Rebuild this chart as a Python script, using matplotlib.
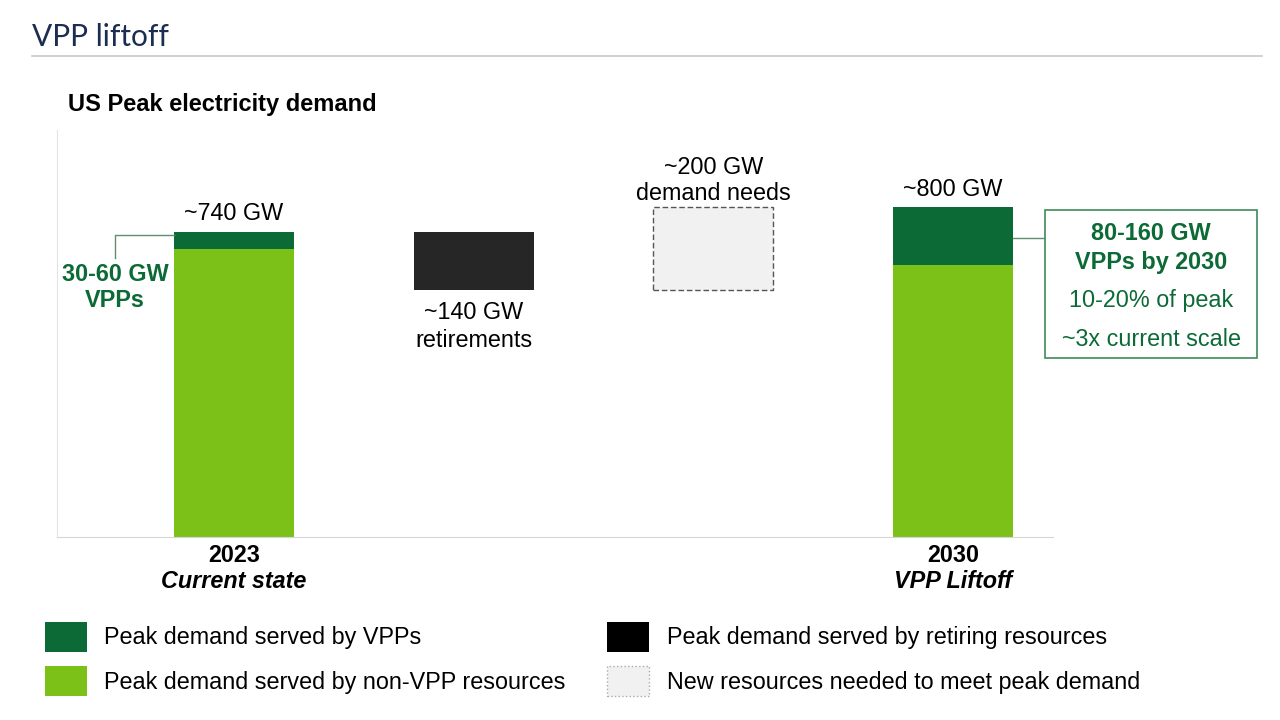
import matplotlib.pyplot as plt
from matplotlib.patches import Patch, Rectangle
from matplotlib.lines import Line2D

# data (GW)
years = ["2023", "2030"]
year_notes = ["Current state", "VPP Liftoff"]
totals = [740, 800]
vpp_gw = [40, 140]
retire_gw = 140
need_gw = 200
top_labels = ["~740 GW", "~800 GW"]

DARK = "#0b6a35"
LIGHT = "#7cc118"
BLACK = "#262626"
GREY_FILL = "#f1f1f1"
FS = 16.8

plt.rcParams['font.family'] = ['Liberation Sans', 'DejaVu Sans']

fig = plt.figure(figsize=(12.8, 7.2), dpi=100)

def fx(px):
    return px / 1280

def fy(py):
    return 1 - py / 720

# page header
fig.text(fx(32), fy(37), "VPP liftoff", fontsize=21.5, color="#1c2d52",
         family=['Lato', 'DejaVu Sans'], va='center', ha='left')
fig.add_artist(Line2D([fx(32), fx(1262)], [fy(56), fy(56)], color="#c8c8c8", lw=1.2))
fig.text(fx(68), fy(104), "US Peak electricity demand", fontsize=17, fontweight='bold',
         va='center', ha='left')

ax = fig.add_axes([fx(57), fy(537), fx(1053) - fx(57), fy(130) - fy(537)])
ax.set_xlim(-0.7375, 3.4167)
ax.set_ylim(0, 988)

x_year = [0, 3]
non_vpp = [t - v for t, v in zip(totals, vpp_gw)]
ax.bar(x_year, non_vpp, width=0.5, color=LIGHT)
ax.bar(x_year, vpp_gw, bottom=non_vpp, width=0.5, color=DARK)

base = totals[0] - retire_gw
ax.bar(1, retire_gw, bottom=base, width=0.5, color=BLACK)
ax.bar(2, need_gw, bottom=base, width=0.5, color=GREY_FILL, edgecolor="#555555",
       linestyle=(0, (4, 2)), linewidth=1)

# value labels
for x, t, lab in zip(x_year, totals, top_labels):
    ax.annotate(lab, (x, t), xytext=(0, 5), textcoords='offset points',
                ha='center', va='bottom', fontsize=FS)
ax.annotate("~140 GW\nretirements", (1, base), xytext=(0, -8), textcoords='offset points',
            ha='center', va='top', fontsize=FS, linespacing=1.28)
ax.annotate("~200 GW\ndemand needs", (2, base + need_gw), xytext=(0, 1.5), textcoords='offset points',
            ha='center', va='bottom', fontsize=FS, linespacing=1.2)

# category labels
for x, yr, note in zip(x_year, years, year_notes):
    ax.annotate(yr, (x, 0), xytext=(0, -5), textcoords='offset points',
                ha='center', va='top', fontsize=FS, fontweight='bold')
    ax.annotate(note, (x, 0), xytext=(0, -24), textcoords='offset points',
                ha='center', va='top', fontsize=FS, fontweight='bold', style='italic')

# 2023 VPP callout
ax.plot([-0.25, -0.496, -0.496], [733, 733, 677], color="#5f8f6f", lw=1, clip_on=False)
ax.text(-0.496, 638, "30-60 GW", ha='center', va='center', fontsize=FS,
        fontweight='bold', color=DARK)
ax.text(-0.496, 573, "VPPs", ha='center', va='center', fontsize=FS,
        fontweight='bold', color=DARK)

# 2030 VPP callout box
ax.plot([3.25, 3.383], [726, 726], color="#5f8f6f", lw=1, clip_on=False)
fig.add_artist(Rectangle((fx(1045), fy(358)), fx(1257) - fx(1045), fy(210) - fy(358),
                         facecolor='white', edgecolor="#3f8a5a", lw=1.2))
box_lines = [("80-160 GW", 234, 'bold'), ("VPPs by 2030", 262, 'bold'),
             ("10-20% of peak", 300, 'normal'), ("~3x current scale", 340, 'normal')]
for txt, py, w in box_lines:
    fig.text(fx(1151), fy(py), txt, ha='center', va='center', fontsize=FS,
             fontweight=w, color=DARK)

for side in ['top', 'right']:
    ax.spines[side].set_visible(False)
ax.spines['left'].set_color("#e3e3e3")
ax.spines['bottom'].set_color("#d6d6d6")
ax.set_xticks([])
ax.set_yticks([])

handles = [Patch(facecolor=DARK), Patch(facecolor=LIGHT), Patch(facecolor='black'),
           Patch(facecolor=GREY_FILL, edgecolor="#aaaaaa", linestyle=':')]
labels = ["Peak demand served by VPPs", "Peak demand served by non-VPP resources",
          "Peak demand served by retiring resources", "New resources needed to meet peak demand"]
fig.legend(handles, labels, ncol=2, loc='upper left', bbox_to_anchor=(fx(45), fy(622)),
           frameon=False, fontsize=FS, borderpad=0, borderaxespad=0,
           handlelength=1.78, handleheight=1.58, handletextpad=0.76,
           labelspacing=0.62, columnspacing=1.79)

fig.savefig("out.png", dpi=100, facecolor='white')
